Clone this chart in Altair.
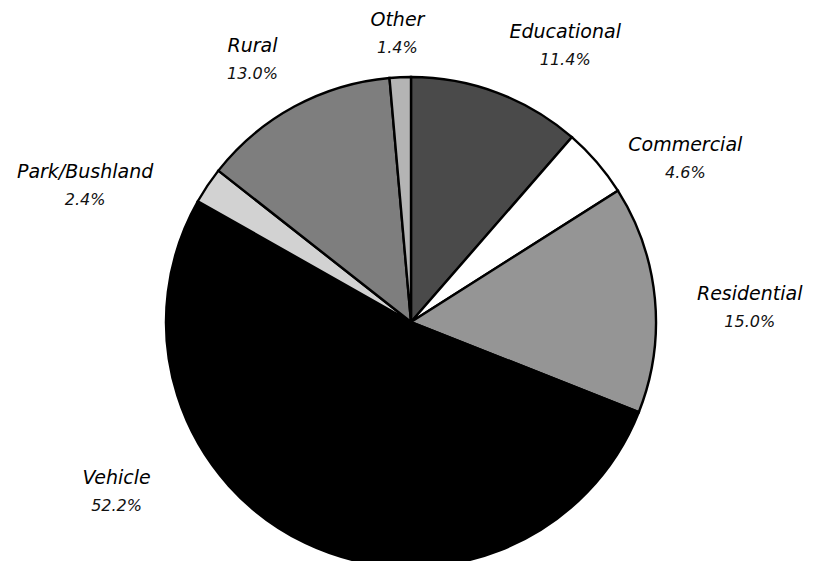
import altair as alt
import pandas as pd

# Data
categories = ["Educational", "Commercial", "Residential", "Vehicle", "Park/Bushland", "Rural", "Other"]
values = [11.4, 4.6, 15.0, 52.2, 2.4, 13.0, 1.4]
pct_labels = ["11.4%", "4.6%", "15.0%", "52.2%", "2.4%", "13.0%", "1.4%"]

# Styles
fills = ["#4a4a4a", "#ffffff", "#959595", "#000000", "#d2d2d2", "#7e7e7e", "#b4b4b4"]

# Layout: chart size, pie centre / radius, label placement (angle clockwise from 12 o'clock, radius in px)
W, H = 811, 553
CX, CY, R = 403, 314, 245
label_angle = [29.2, 59.3, 87.6, 240.0, 292.6, 328.8, 357.3]
label_radius = [316, 319, 339, 340, 353, 306, 288]

df = pd.DataFrame({
    "cat": categories,
    "val": values,
    "pct": pct_labels,
    "order": list(range(len(categories))),
    "la": label_angle,
    "lr": label_radius,
})

base = alt.Chart(df)

pie = base.mark_arc(stroke="black", strokeWidth=2.4, strokeJoin="miter").encode(
    theta=alt.Theta("val:Q", stack=True),
    order=alt.Order("order:Q"),
    color=alt.Color("cat:N", scale=alt.Scale(domain=categories, range=fills), legend=None),
    radius=alt.value(R),
    x=alt.value(CX),
    y=alt.value(CY),
)

lab = base.transform_calculate(
    lx=f"{CX} + datum.lr * sin(datum.la * PI / 180)",
    ly=f"{CY} - datum.lr * cos(datum.la * PI / 180)",
)

names = lab.mark_text(
    font="DejaVu Sans", fontStyle="italic", fontSize=19, align="center",
    baseline="middle", dy=-14, color="black",
).encode(
    x=alt.X("lx:Q", scale=None, axis=None),
    y=alt.Y("ly:Q", scale=None, axis=None),
    text="cat:N",
)

pcts = lab.mark_text(
    font="DejaVu Sans", fontStyle="italic", fontSize=16, align="center",
    baseline="middle", dy=14, color="#111111",
).encode(
    x=alt.X("lx:Q", scale=None, axis=None),
    y=alt.Y("ly:Q", scale=None, axis=None),
    text="pct:N",
)

chart = alt.layer(pie, names, pcts).properties(
    width=W, height=H,
    autosize=alt.AutoSizeParams(type="none"),
    padding=0,
).configure_view(stroke=None)

chart.save("out.html", embed_options={"renderer": "svg", "actions": False})
